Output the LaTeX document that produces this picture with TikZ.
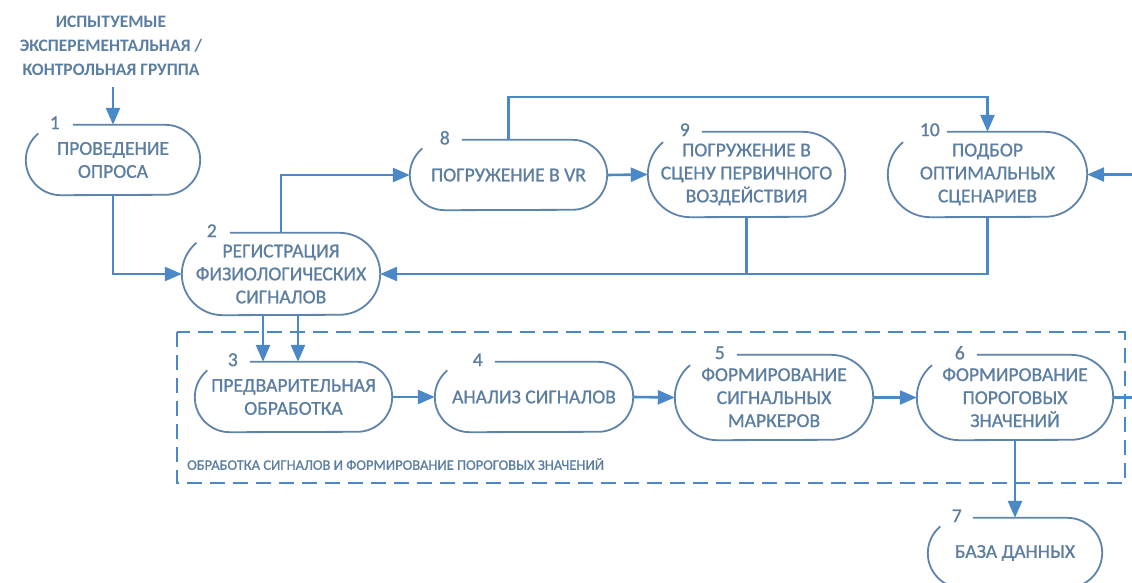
\documentclass[tikz,border=0pt]{standalone}
\usepackage{fontspec}
\setmainfont{Carlito}
\newfontfamily\semib[FakeBold=0.9]{Carlito}
\usetikzlibrary{arrows.meta,calc}
\definecolor{arrc}{RGB}{74,136,200}
\definecolor{outc}{RGB}{95,132,172}
\definecolor{txtc}{RGB}{92,126,160}
\tikzset{
  proc/.style={inner sep=0pt, text=txtc, align=center, font=\semib\fontsize{19.6}{23}\selectfont},
  numlab/.style={inner sep=0pt, text=txtc, font=\semib\fontsize{19.6}{23}\selectfont},
  outl/.style={draw=outc, line width=1.8pt},
  conn/.style={draw=arrc, line width=2.6pt},
  arr/.style={conn, -{Triangle[length=17pt,width=14pt]}},
  grp/.style={draw=arrc, line width=2.2pt, dash pattern=on 15pt off 8pt}
}
\newcommand{\capsule}[3]{%
  \draw[outl] ([xshift=#3]#1.north west) -- ([xshift=-#2]#1.north east)
    arc[start angle=90,end angle=-90,radius=#2] -- ([xshift=#2]#1.south west)
    arc[start angle=270,end angle=130,radius=#2];}
\begin{document}
\begin{tikzpicture}[x=1pt,y=1pt]
\clip (0,0) rectangle (1132,-583);
\fill[white] (0,0) rectangle (1132,-583);

% header text
\node[proc, font=\bfseries\fontsize{17.5}{24}\selectfont] (t0) at (111,-46)
  {ИСПЫТУЕМЫЕ\\ЭКСПЕРЕМЕНТАЛЬНАЯ /\\КОНТРОЛЬНАЯ ГРУППА};
\coordinate (c0) at (113,-87);

% nodes
\node[proc, minimum width=174pt, minimum height=70pt] (n1) at (113,-160) {ПРОВЕДЕНИЕ\\ОПРОСА};
\node[proc, minimum width=198pt, minimum height=82pt] (n2) at (281,-274) {РЕГИСТРАЦИЯ\\ФИЗИОЛОГИЧЕСКИХ\\СИГНАЛОВ};
\node[proc, minimum width=197pt, minimum height=70pt] (n8) at (508.5,-175) {ПОГРУЖЕНИЕ В VR};
\node[proc, minimum width=197pt, minimum height=85pt] (n9) at (746.5,-174.5) {ПОГРУЖЕНИЕ В\\СЦЕНУ ПЕРВИЧНОГО\\ВОЗДЕЙСТВИЯ};
\node[proc, minimum width=199pt, minimum height=85pt] (n10) at (987.5,-174.5) {ПОДБОР\\ОПТИМАЛЬНЫХ\\СЦЕНАРИЕВ};
\node[proc, minimum width=197pt, minimum height=70pt] (n3) at (293.5,-397) {ПРЕДВАРИТЕЛЬНАЯ\\ОБРАБОТКА};
\node[proc, minimum width=198pt, minimum height=70pt] (n4) at (534,-397) {АНАЛИЗ СИГНАЛОВ};
\node[proc, minimum width=198pt, minimum height=85pt] (n5) at (774,-397.5) {ФОРМИРОВАНИЕ\\СИГНАЛЬНЫХ\\МАРКЕРОВ};
\node[proc, minimum width=196pt, minimum height=85pt] (n6) at (1015,-397.5) {ФОРМИРОВАНИЕ\\ПОРОГОВЫХ\\ЗНАЧЕНИЙ};
\node[proc, minimum width=174pt, minimum height=70pt] (n7) at (1015,-553) {БАЗА ДАННЫХ};

% outlines
\capsule{n1}{35pt}{47pt}
\capsule{n2}{41pt}{48pt}
\capsule{n8}{35pt}{52pt}
\capsule{n9}{42.5pt}{54pt}
\capsule{n10}{42.5pt}{59pt}
\capsule{n3}{35pt}{55pt}
\capsule{n4}{35pt}{60pt}
\capsule{n5}{42.5pt}{62pt}
\capsule{n6}{42.5pt}{60pt}
\capsule{n7}{35pt}{45pt}

% numbers
\node[numlab] (k1) at ([xshift=29pt,yshift=2pt]n1.north west) {1};
\node[numlab] (k2) at ([xshift=30pt,yshift=2pt]n2.north west) {2};
\node[numlab] (k8) at ([xshift=35pt,yshift=2pt]n8.north west) {8};
\node[numlab] (k9) at ([xshift=37pt,yshift=2pt]n9.north west) {9};
\node[numlab] (k10) at ([xshift=42pt,yshift=2pt]n10.north west) {10};
\node[numlab] (k3) at ([xshift=38pt,yshift=2pt]n3.north west) {3};
\node[numlab] (k4) at ([xshift=43pt,yshift=2pt]n4.north west) {4};
\node[numlab] (k5) at ([xshift=45pt,yshift=2pt]n5.north west) {5};
\node[numlab] (k6) at ([xshift=43pt,yshift=2pt]n6.north west) {6};
\node[numlab] (k7) at ([xshift=29pt,yshift=2pt]n7.north west) {7};

% group box
\coordinate (g1) at (177,-332);
\coordinate (g2) at (1125,-483);
\draw[grp] (g1) rectangle (g2);
\node[inner sep=0pt, anchor=west, text=txtc, font=\semib\fontsize{14.5}{16}\selectfont] (gl) at (187,-464)
  {ОБРАБОТКА СИГНАЛОВ И ФОРМИРОВАНИЕ ПОРОГОВЫХ ЗНАЧЕНИЙ};

% connectors
\coordinate (top) at (747,-97);
\coordinate (rt1) at (1145,-397.5);
\coordinate (rt2) at (1145,-174.5);
\draw[arr] (c0) -- (n1.north);
\draw[arr] (n1.south) |- (n2.west);
\draw[arr] (n2.north) |- (n8.west);
\draw[arr] (n8.east) -- (n9.west);
\draw[arr] (n8.north) |- (top) -| (n10.north);
\draw[conn] (n9.south) -- (n9.south |- n2.east);
\draw[arr] (n10.south) |- (n2.east);
\draw[arr] ([xshift=-18pt]n2.south) -- ([xshift=-18pt]n2.south |- n3.north);
\draw[arr] ([xshift=17pt]n2.south) -- ([xshift=17pt]n2.south |- n3.north);
\draw[arr] (n3.east) -- (n4.west);
\draw[arr] (n4.east) -- (n5.west);
\draw[arr] (n5.east) -- (n6.west);
\draw[arr] (n6.south) -- (n7.north);
\draw[arr] (n6.east) -- (rt1) -- (rt2) -- (n10.east);
\end{tikzpicture}
\end{document}
